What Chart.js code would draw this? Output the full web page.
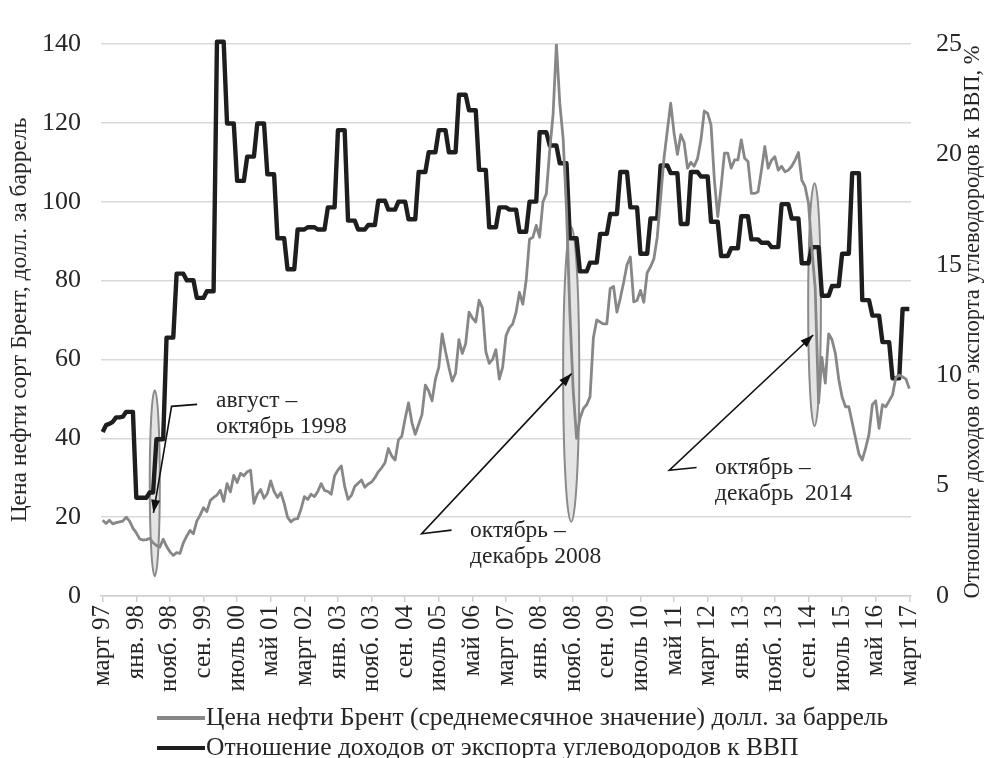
<!DOCTYPE html>
<html>
<head>
<meta charset="utf-8">
<script src="https://cdn.jsdelivr.net/npm/chart.js@4/dist/chart.umd.min.js"></script>
<style>
  html, body { margin: 0; padding: 0; background: #fff; }
  #wrap { width: 995px; height: 758px; }
</style>
</head>
<body>
<div id="wrap"><canvas id="oil" width="995" height="758"></canvas></div>
<script>
// months from March 1997 to March 2017
var monthNames = ['янв.', 'февр.', 'март', 'апр.', 'май', 'июнь', 'июль', 'авг.', 'сен.', 'окт.', 'нояб.', 'дек.'];
var startYear = 1997, startMonth = 2, monthCount = 241;

// Brent, monthly average, USD per barrel (left axis)
var brentPrice = [
  19.2, 18.4, 19.2, 18.3, 18.6, 18.8, 19.0, 20.0, 19.0, 17.2,
  16.0, 14.5, 14.2, 14.3, 14.6, 13.5, 12.8, 12.4, 14.4, 12.6, 11.2, 10.3,
  11.0, 10.8, 13.5, 15.2, 16.6, 15.8, 19.0, 20.5, 22.4, 21.4, 24.2, 25.0,
  25.6, 26.8, 24.0, 28.5, 26.4, 30.6, 28.8, 31.1, 30.5, 31.5, 31.9, 23.5,
  25.8, 27.0, 24.8, 26.0, 29.2, 26.5, 25.0, 26.2, 23.5, 20.0, 18.8, 19.5,
  19.6, 22.0, 25.2, 24.5, 25.8, 25.2, 26.5, 28.5, 26.8, 26.5, 25.8, 30.5,
  32.0, 33.0, 27.8, 24.5, 25.5, 27.8, 28.6, 29.4, 27.6, 28.4, 28.9, 30.0,
  31.5, 32.5, 33.8, 37.4, 35.5, 34.5, 39.6, 40.5, 45.0, 49.0, 44.0, 41.0,
  43.5, 46.0, 53.5, 52.0, 49.5, 55.0, 58.0, 66.5, 62.0, 58.0, 54.5, 56.5,
  65.0, 61.5, 64.0, 72.0, 70.5, 69.5, 75.0, 73.0, 62.0, 59.0, 60.0, 62.5,
  55.0, 58.0, 66.0, 68.0, 69.0, 72.0, 77.0, 74.0, 80.0, 90.5, 91.0, 94.0,
  91.0, 100.0, 102.0, 113.0, 122.0, 140.0, 125.0, 116.0, 98.0, 72.0, 52.0, 40.0,
  45.0, 47.5, 48.5, 50.5, 65.5, 70.0, 69.5, 69.0, 69.0, 78.0, 78.5, 72.0,
  75.5, 79.5, 84.0, 86.0, 74.6, 75.0, 77.5, 74.5, 82.0, 83.5, 85.5, 91.0,
  101.0, 111.0, 118.0, 125.0, 117.4, 112.0, 117.0, 115.0, 108.5, 110.0, 109.0, 111.0,
  115.7, 123.0, 122.4, 119.5, 105.5, 96.2, 103.8, 112.3, 112.3, 108.5, 110.6, 110.6,
  115.7, 111.0, 110.2, 102.1, 102.1, 102.5, 108.0, 114.0, 108.5, 110.5, 111.4, 108.0,
  109.0, 107.6, 108.0, 109.0, 110.5, 112.5, 105.5, 103.8, 99.6, 88.0, 78.0, 49.0,
  60.5, 54.0, 66.5, 65.0, 61.5, 55.0, 50.5, 48.0, 48.0, 44.0, 40.0, 36.0,
  34.5, 37.5, 41.0, 48.5, 49.5, 42.5, 48.5, 48.0, 49.5, 51.0, 55.5, 56.0,
  55.6, 55.0, 52.6
];

// hydrocarbon export revenue to GDP, % (right axis), monthly
var exportRatio = [
  7.43, 7.74, 7.80, 7.89, 8.09, 8.09, 8.12, 8.34, 8.34, 8.34,
  4.45, 4.45, 4.45, 4.45, 4.69, 4.69, 7.10, 7.10, 7.10, 11.7, 11.7, 11.7,
  14.6, 14.6, 14.6, 14.3, 14.3, 14.3, 13.5, 13.5, 13.5, 13.8, 13.8, 13.8,
  25.1, 25.1, 25.1, 21.4, 21.4, 21.4, 18.8, 18.8, 18.8, 19.9, 19.9, 19.9,
  21.4, 21.4, 21.4, 19.1, 19.1, 19.1, 16.2, 16.2, 16.2, 14.8, 14.8, 14.8,
  16.6, 16.6, 16.6, 16.7, 16.7, 16.7, 16.6, 16.6, 16.6, 17.6, 17.6, 17.6,
  21.1, 21.1, 21.1, 17.0, 17.0, 17.0, 16.6, 16.6, 16.6, 16.8, 16.8, 16.8,
  17.9, 17.9, 17.9, 17.5, 17.5, 17.5, 17.86, 17.86, 17.86, 17.06, 17.06, 17.06,
  19.2, 19.2, 19.2, 20.1, 20.1, 20.1, 21.1, 21.1, 21.1, 20.1, 20.1, 20.1,
  22.7, 22.7, 22.7, 22.0, 22.0, 22.0, 19.3, 19.3, 19.3, 16.7, 16.7, 16.7,
  17.6, 17.6, 17.6, 17.5, 17.5, 17.5, 16.5, 16.5, 16.5, 17.86, 17.86, 17.86,
  21.0, 21.0, 21.0, 20.4, 20.4, 20.4, 19.6, 19.6, 19.6, 16.2, 16.2, 16.2,
  14.7, 14.7, 14.7, 15.1, 15.1, 15.1, 16.4, 16.4, 16.4, 17.3, 17.3, 17.3,
  19.2, 19.2, 19.2, 17.6, 17.6, 17.6, 15.5, 15.5, 15.5, 17.1, 17.1, 17.1,
  19.5, 19.5, 19.5, 19.15, 19.15, 19.15, 16.85, 16.85, 16.85, 19.2, 19.2, 19.2,
  19.0, 19.0, 19.0, 16.95, 16.95, 16.95, 15.4, 15.4, 15.4, 15.75, 15.75, 15.75,
  17.2, 17.2, 17.2, 16.15, 16.15, 16.15, 16.0, 16.0, 16.0, 15.8, 15.8, 15.8,
  17.75, 17.75, 17.75, 17.1, 17.1, 17.1, 15.07, 15.07, 15.07, 15.8, 15.8, 15.8,
  13.6, 13.6, 13.6, 14.04, 14.04, 14.04, 15.5, 15.5, 15.5, 19.15, 19.15, 19.15,
  13.4, 13.4, 13.4, 12.7, 12.7, 12.7, 11.5, 11.5, 11.5, 9.86, 9.86, 9.86,
  13.0, 13.0, 13.0
];

var priceTicks = [0, 20, 40, 60, 80, 100, 120, 140];
var ratioTicks = [0, 5, 10, 15, 20, 25];

var seriesNames = [
  'Цена нефти Брент (среднемесячное значение) долл. за баррель',
  'Отношение доходов от экспорта углеводородов к ВВП'
];
var leftTitle = 'Цена нефти сорт Брент, долл. за баррель';
var rightTitle = 'Отношение доходов от экспорта углеводородов к ВВП, %';

// crisis marks: month index (x) and left-axis value (y)
var crisisNames = [['август –', 'октябрь 1998'], ['октябрь –', 'декабрь 2008'], ['октябрь –', 'декабрь  2014']];
var crisisEllipse = [[15.5, 28.6, 1.5, 23.6], [139.4, 56.2, 2.4, 37.4], [211.8, 73.9, 1.9, 30.8]];
var crisisArrow = [
  [[28.1, 48.6], [20.5, 48.1], [15.1, 21.1]],
  [[103.8, 16.7], [94.9, 15.8], [139.5, 56.4]],
  [[176.7, 32.6], [168.6, 31.9], [211.4, 66.2]]
];
var crisisText = [[33.7, 47.9], [109.3, 14.9], [182.2, 30.9]];

var labels = [];
for (var i = 0; i < monthCount; i++) {
  var m = (startMonth + i) % 12;
  var y = (startYear + Math.floor((startMonth + i) / 12)) % 100;
  labels.push(monthNames[m] + ' ' + (y < 10 ? '0' : '') + y);
}

var serif = "'Liberation Serif', 'Times New Roman', serif";
var textColor = '#262626';

var crisisPlugin = {
  id: 'crisis',
  beforeDatasetsDraw: function(chart) {
    var c = chart.ctx, xs = chart.scales.x, ys = chart.scales.yPrice;
    c.save();
    crisisEllipse.forEach(function(e) {
      var cx = xs.getPixelForValue(e[0]), cy = ys.getPixelForValue(e[1]);
      var rx = Math.abs(xs.getPixelForValue(e[0] + e[2]) - cx);
      var ry = Math.abs(ys.getPixelForValue(e[1] + e[3]) - cy);
      c.beginPath();
      c.ellipse(cx, cy, rx, ry, 0, 0, Math.PI * 2);
      c.fillStyle = '#e4e4e4';
      c.fill();
      c.lineWidth = 2;
      c.strokeStyle = '#8a8a8a';
      c.stroke();
    });
    c.restore();
  },
  afterDatasetsDraw: function(chart) {
    var c = chart.ctx, xs = chart.scales.x, ys = chart.scales.yPrice;
    c.save();
    crisisArrow.forEach(function(a) {
      var pts = a.map(function(p) { return [xs.getPixelForValue(p[0]), ys.getPixelForValue(p[1])]; });
      c.beginPath();
      c.moveTo(pts[0][0], pts[0][1]);
      for (var k = 1; k < pts.length; k++) c.lineTo(pts[k][0], pts[k][1]);
      c.strokeStyle = '#111';
      c.lineWidth = 1.6;
      c.stroke();
      var p1 = pts[pts.length - 2], p2 = pts[pts.length - 1];
      var ang = Math.atan2(p2[1] - p1[1], p2[0] - p1[0]);
      c.beginPath();
      c.moveTo(p2[0], p2[1]);
      c.lineTo(p2[0] - 13 * Math.cos(ang) + 4.5 * Math.sin(ang), p2[1] - 13 * Math.sin(ang) - 4.5 * Math.cos(ang));
      c.lineTo(p2[0] - 13 * Math.cos(ang) - 4.5 * Math.sin(ang), p2[1] - 13 * Math.sin(ang) + 4.5 * Math.cos(ang));
      c.closePath();
      c.fillStyle = '#111';
      c.fill();
    });
    c.font = '23.5px ' + serif;
    c.fillStyle = textColor;
    c.textBaseline = 'alphabetic';
    c.textAlign = 'left';
    crisisText.forEach(function(t, n) {
      var tx = xs.getPixelForValue(t[0]), ty = ys.getPixelForValue(t[1]);
      crisisNames[n].forEach(function(line, k) { c.fillText(line, tx, ty + k * 26); });
    });
    c.restore();
  },
  afterDraw: function(chart) {
    var c = chart.ctx, a = chart.chartArea;
    c.save();
    // right axis title, read bottom to top
    c.font = '22.5px ' + serif;
    c.fillStyle = textColor;
    c.textAlign = 'center';
    c.textBaseline = 'middle';
    c.translate(973, (a.top + a.bottom) / 2 + 2);
    c.rotate(-Math.PI / 2);
    c.fillText(rightTitle, 0, 0);
    c.restore();
    // legend
    c.save();
    c.font = '25.5px ' + serif;
    c.textAlign = 'left';
    c.textBaseline = 'middle';
    chart.data.datasets.forEach(function(ds, n) {
      var ly = 718 + n * 30;
      c.beginPath();
      c.moveTo(157, ly);
      c.lineTo(205, ly);
      c.strokeStyle = ds.borderColor;
      c.lineWidth = 4;
      c.stroke();
      c.fillStyle = textColor;
      c.fillText(ds.label, 206, ly);
    });
    c.restore();
  }
};

var ctx = document.getElementById('oil').getContext('2d');
var myChart = new Chart(ctx, {
  type: 'line',
  data: {
    labels: labels,
    datasets: [{
      label: seriesNames[0],
      data: brentPrice,
      yAxisID: 'yPrice',
      borderColor: '#878787',
      borderWidth: 2.8,
      pointRadius: 0,
      borderJoinStyle: 'round',
      tension: 0
    }, {
      label: seriesNames[1],
      data: exportRatio,
      yAxisID: 'yRatio',
      borderColor: '#1e1e1e',
      borderWidth: 4.4,
      pointRadius: 0,
      borderJoinStyle: 'round',
      tension: 0,
      clip: false
    }]
  },
  options: {
    responsive: false,
    animation: false,
    layout: { padding: { top: 44, bottom: 62, left: 0, right: 0 } },
    plugins: { legend: { display: false }, tooltip: { enabled: false } },
    scales: {
      x: {
        offset: true,
        grid: { offset: false, drawOnChartArea: false, drawTicks: true, tickLength: 6, color: '#d0d0d0', lineWidth: 1.5 },
        border: { color: '#d0d0d0', width: 1.5 },
        ticks: { autoSkip: false, maxRotation: 90, minRotation: 90, padding: 3, color: textColor, font: { family: serif, size: 25 } },
        afterBuildTicks: function(axis) {
          axis.ticks = axis.ticks.filter(function(t) { return t.value % 10 === 0; });
        },
        afterFit: function(axis) { axis.height = 100; }
      },
      yPrice: {
        position: 'left',
        min: priceTicks[0],
        max: priceTicks[priceTicks.length - 1],
        afterBuildTicks: function(axis) { axis.ticks = priceTicks.map(function(v) { return { value: v }; }); },
        grid: { color: '#d9d9d9', lineWidth: 1.5, drawTicks: false },
        border: { display: false },
        ticks: { padding: 20, color: textColor, font: { family: serif, size: 26 } },
        title: { display: true, text: leftTitle, color: textColor, font: { family: serif, size: 23.5 }, padding: { top: 6, bottom: 0 } },
        afterFit: function(axis) { axis.width = 101; }
      },
      yRatio: {
        position: 'right',
        min: ratioTicks[0],
        max: ratioTicks[ratioTicks.length - 1],
        afterBuildTicks: function(axis) { axis.ticks = ratioTicks.map(function(v) { return { value: v }; }); },
        grid: { display: false, drawTicks: false },
        border: { display: false },
        ticks: { padding: 25, color: textColor, font: { family: serif, size: 26 } },
        afterFit: function(axis) { axis.width = 84; }
      }
    }
  },
  plugins: [crisisPlugin]
});
</script>
</body>
</html>
